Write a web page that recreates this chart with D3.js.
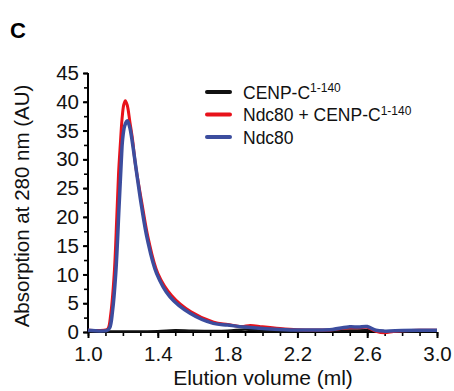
<!DOCTYPE html>
<html>
<head>
<meta charset="utf-8">
<script src="https://cdn.jsdelivr.net/npm/d3@7"></script>
<style>
  body { margin: 0; background: #fff; }
  svg { display: block; font-family: "Liberation Sans", Arial, sans-serif; }
</style>
</head>
<body>
<svg width="454" height="391"></svg>
<script>
// Elution profiles (ml, AU)
let cenpX = [1.0, 1.2, 1.4, 1.5, 1.6, 1.8, 1.9, 2.0, 2.2, 2.5, 2.6, 2.7, 3.0];
let cenpY = [0.1, 0.1, 0.15, 0.3, 0.2, 0.2, 0.45, 0.2, 0.15, 0.25, 0.3, 0.15, 0.2];

let complexX = [1.0, 1.1, 1.115, 1.13, 1.15, 1.165, 1.175, 1.185, 1.195, 1.205, 1.214, 1.225, 1.24, 1.255, 1.27, 1.288,
  1.312, 1.347, 1.4, 1.48, 1.59, 1.72, 1.8, 1.88, 1.93, 2.0, 2.1, 2.2, 2.3, 2.4, 2.45, 2.5, 2.55, 2.6, 2.65, 2.7, 2.75, 2.8, 2.9, 3.0];
let complexY = [0.3, 0.35, 0.6, 3, 10, 20, 27.5, 32.5, 37, 39.5, 40.2, 39.4, 36.5, 33.5, 29.5, 26,
  21.8, 16, 10.2, 6.3, 3.5, 1.7, 1.3, 0.95, 1.15, 0.9, 0.6, 0.4, 0.35, 0.4, 0.6, 0.75, 0.75, 0.8, 0.1, -0.15, 0.1, 0.2, 0.3, 0.3];

let ndcX = [1.0, 1.11, 1.125, 1.14, 1.159, 1.178, 1.191, 1.198, 1.21, 1.225, 1.24, 1.252, 1.279, 1.307, 1.341, 1.393,
  1.47, 1.585, 1.718, 1.8, 1.9, 2.0, 2.1, 2.2, 2.3, 2.4, 2.5, 2.55, 2.6, 2.65, 2.7, 2.8, 2.9, 3.0];
let ndcY = [0.3, 0.3, 0.8, 3.5, 10.2, 21.8, 29.9, 33.4, 35.8, 36.7, 35.5, 33.4, 27.6, 21.8, 16, 10.2,
  6.1, 3.25, 1.5, 1.2, 0.85, 0.6, 0.45, 0.35, 0.35, 0.45, 0.9, 0.85, 0.95, 0.3, 0.15, 0.25, 0.3, 0.3];

let xTicks = [1.0, 1.4, 1.8, 2.2, 2.6, 3.0];
let yTicks = [0, 5, 10, 15, 20, 25, 30, 35, 40, 45];

let seriesNames = ["CENP-C", "Ndc80 + CENP-C", "Ndc80"];
let seriesSup = ["1-140", "1-140", ""];
let seriesColors = ["#111111", "#e8121b", "#3c4d9e"];

let svg = d3.select("svg");

let x = d3.scaleLinear().domain([1.0, 3.0]).range([88, 437]);
let y = d3.scaleLinear().domain([0, 45]).range([332, 73]);

// panel letter
svg.append("text")
  .attr("x", 10).attr("y", 38)
  .attr("font-size", 22).attr("font-weight", "bold")
  .text("C");

// minor ticks
let xMinor = d3.range(1.0, 3.001, 0.1);
let yMinor = d3.range(0, 45.01, 2.5);

svg.append("g")
  .attr("transform", "translate(0,332)")
  .call(d3.axisBottom(x).tickValues(xMinor).tickSize(4).tickFormat(""))
  .call(g => g.select(".domain").remove())
  .selectAll("line").attr("stroke-width", 1.6);

svg.append("g")
  .attr("transform", "translate(88,0)")
  .call(d3.axisLeft(y).tickValues(yMinor).tickSize(4).tickFormat(""))
  .call(g => g.select(".domain").remove())
  .selectAll("line").attr("stroke-width", 1.6);

// main axes
let xAxis = svg.append("g")
  .attr("transform", "translate(0,332)")
  .call(d3.axisBottom(x).tickValues(xTicks).tickSize(6).tickPadding(8).tickFormat(d3.format(".1f")))
  .call(g => g.select(".domain").attr("d", "M88,0H437").attr("stroke-width", 2));
xAxis.selectAll("line").attr("stroke-width", 2);
xAxis.selectAll("text").attr("font-size", 20.5).attr("fill", "#111")
  .attr("font-family", "Liberation Sans, Arial, sans-serif");

let yAxis = svg.append("g")
  .attr("transform", "translate(88,0)")
  .call(d3.axisLeft(y).tickValues(yTicks).tickSize(5).tickPadding(4))
  .call(g => g.select(".domain").attr("d", "M0,73V332").attr("stroke-width", 2));
yAxis.selectAll("line").attr("stroke-width", 2);
yAxis.selectAll("text").attr("font-size", 20.5).attr("fill", "#111")
  .attr("font-family", "Liberation Sans, Arial, sans-serif");

// axis titles
svg.append("text")
  .attr("x", 263).attr("y", 385)
  .attr("text-anchor", "middle")
  .attr("font-size", 21).attr("fill", "#111")
  .text("Elution volume (ml)");

svg.append("text")
  .attr("transform", "translate(29,206) rotate(-90)")
  .attr("text-anchor", "middle")
  .attr("font-size", 20.5).attr("fill", "#111")
  .text("Absorption at 280 nm (AU)");

// traces
let line = d3.line()
  .x(d => x(d[0]))
  .y(d => y(d[1]))
  .curve(d3.curveCatmullRom.alpha(0.5));

let traces = [
  { xs: cenpX, ys: cenpY, w: 2.5 },
  { xs: complexX, ys: complexY, w: 3 },
  { xs: ndcX, ys: ndcY, w: 3.5 }
];

traces.forEach((t, i) => {
  svg.append("path")
    .datum(d3.zip(t.xs, t.ys))
    .attr("fill", "none")
    .attr("stroke", seriesColors[i])
    .attr("stroke-width", t.w)
    .attr("stroke-linejoin", "round")
    .attr("d", line);
});

// legend
let legend = svg.append("g").attr("transform", "translate(207,92)");
seriesNames.forEach((name, i) => {
  let row = legend.append("g").attr("transform", "translate(0," + (i * 22.5) + ")");
  row.append("line")
    .attr("x1", 0).attr("x2", 23)
    .attr("stroke", seriesColors[i])
    .attr("stroke-width", 4)
    .attr("stroke-linecap", "round");
  let t = row.append("text")
    .attr("x", 36).attr("y", 6.5)
    .attr("font-size", 17.5).attr("fill", "#111")
    .text(name);
  if (seriesSup[i]) {
    t.append("tspan")
      .attr("font-size", 12)
      .attr("dy", -6.5)
      .text(seriesSup[i]);
  }
});
</script>
</body>
</html>
